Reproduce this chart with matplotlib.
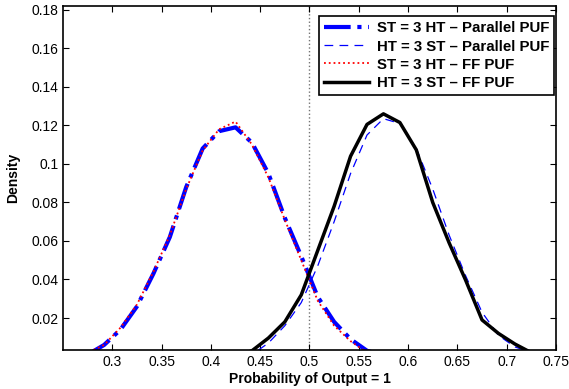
import numpy as np
from matplotlib import pyplot as plt

# bin centres (histogram bins of width 1/60)
x_st = np.arange(17, 71, 2) / 120.0
x_ht = np.arange(43, 89, 2) / 120.0

st_parallel = [0.0, 0.0, 0.0, 0.0, 0.0, 0.0, 0.0, 0.0, 0.001, 0.006, 0.014, 0.026, 0.043, 0.062, 0.088, 0.108, 0.117,
               0.119, 0.111, 0.095, 0.072, 0.052, 0.031, 0.018, 0.009, 0.003, 0.0005]
st_ff = [0.0, 0.0, 0.0, 0.0, 0.0, 0.0, 0.0, 0.0, 0.002, 0.006, 0.015, 0.027, 0.044, 0.063, 0.087, 0.107, 0.118,
         0.122, 0.110, 0.093, 0.071, 0.050, 0.029, 0.016, 0.008, 0.002, 0.0005]
ht_parallel = [0.0, 0.0, 0.0, 0.0, 0.0, 0.001, 0.007, 0.016, 0.028, 0.047, 0.070, 0.095, 0.115, 0.1235, 0.121,
               0.108, 0.087, 0.063, 0.042, 0.023, 0.011, 0.005, 0.002]
ht_ff = [0.0, 0.0, 0.0, 0.0, 0.0, 0.003, 0.0096, 0.018, 0.032, 0.055, 0.078, 0.104, 0.1205, 0.126, 0.1215,
         0.1073, 0.080, 0.059, 0.0397, 0.019, 0.012, 0.0065, 0.002]

plt.rcParams['font.family'] = ['Liberation Sans', 'DejaVu Sans']

fig = plt.figure(figsize=(5.69, 3.89), dpi=100)
ax = fig.add_axes([0.1107, 0.1003, 0.8664, 0.8843])

ax.plot(x_st, st_parallel, color='blue', linestyle='-.', linewidth=3, label='ST = 3 HT \u2013 Parallel PUF')
ax.plot(x_ht, ht_parallel, color='blue', linestyle=(0, (7, 5)), linewidth=0.9, label='HT = 3 ST \u2013 Parallel PUF')
ax.plot(x_st, st_ff, color='red', linestyle=':', linewidth=1.3, label='ST = 3 HT \u2013 FF PUF')
ax.plot(x_ht, ht_ff, color='black', linestyle='-', linewidth=2.5, label='HT = 3 ST \u2013 FF PUF')
ax.axvline(0.5, color='0.45', linestyle=':', linewidth=1, zorder=0)

ax.set_xlim(0.25, 0.75)
ax.set_ylim(0.0034, 0.182)
ax.set_xticks(np.arange(0.3, 0.751, 0.05))
ax.set_xticklabels(['0.3', '0.35', '0.4', '0.45', '0.5', '0.55', '0.6', '0.65', '0.7', '0.75'])
ax.set_yticks(np.arange(0.02, 0.181, 0.02))
ax.set_yticklabels(['0.02', '0.04', '0.06', '0.08', '0.1', '0.12', '0.14', '0.16', '0.18'])
ax.tick_params(direction='in', top=True, right=True, labelsize=10, length=4, width=0.8)
for s in ax.spines.values():
    s.set_linewidth(1.2)

ax.set_xlabel('Probability of Output = 1', fontsize=10, fontweight='bold', labelpad=2)
ax.set_ylabel('Density', fontsize=10, fontweight='bold', labelpad=8)

leg = ax.legend(loc='upper right', bbox_to_anchor=(1.0, 0.975), prop={'weight': 'bold', 'size': 10.8},
                handlelength=3.0, fancybox=False, framealpha=1, edgecolor='black',
                borderpad=0.35, labelspacing=0.28, handletextpad=0.5, borderaxespad=0.1)
leg.get_frame().set_linewidth(1.2)

fig.savefig('out.png', dpi=100)
